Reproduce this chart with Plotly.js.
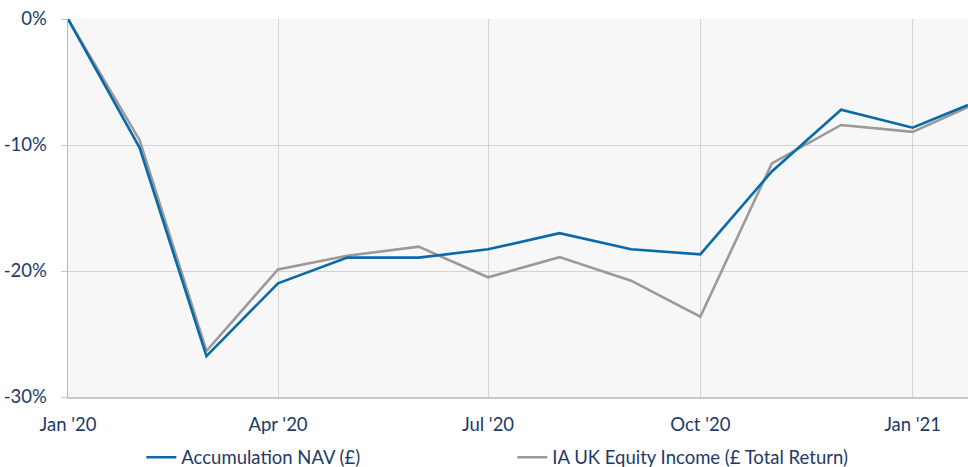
<!DOCTYPE html>
<html>
<head>
<meta charset="utf-8">
<script src="https://cdn.plot.ly/plotly-3.0.1.min.js"></script>
<style>html,body{margin:0;padding:0;background:#fff;}#chart{width:968px;height:467px;}</style>
</head>
<body>
<div id="chart"></div>
<script>
const dates = ['2020-01-01','2020-02-01','2020-03-01','2020-04-01','2020-05-01','2020-06-01','2020-07-01','2020-08-01','2020-09-01','2020-10-01','2020-11-01','2020-12-01','2021-01-01','2021-01-25'];
const accumulationNav = [0, -10.2, -26.75, -20.98, -18.94, -18.94, -18.28, -17.0, -18.28, -18.68, -12.1, -7.2, -8.63, -6.83];
const iaUkEquityIncome = [0, -9.6, -26.35, -19.87, -18.79, -18.07, -20.5, -18.9, -20.77, -23.63, -11.46, -8.41, -8.96, -7.0];
const seriesNames = ['Accumulation NAV (£)', 'IA UK Equity Income (£ Total Return)'];
const xTickVals = ['2020-01-01','2020-04-01','2020-07-01','2020-10-01','2021-01-01'];
const xTickText = ["Jan '20","Apr '20","Jul '20","Oct '20","Jan '21"];
const yTickVals = [0, -10, -20, -30];
const yTickText = ['0%', '-10%', '-20%', '-30%'];

const fontFam = 'Lato, "Open Sans", sans-serif';
const textColor = '#1c3a68';

const traces = [
  {x: dates, y: iaUkEquityIncome, name: seriesNames[1], type: 'scatter', mode: 'lines',
   line: {color: '#9a9a9a', width: 2.6}, legendrank: 2},
  {x: dates, y: accumulationNav, name: seriesNames[0], type: 'scatter', mode: 'lines',
   line: {color: '#0a69a8', width: 2.6}, legendrank: 1}
];

const layout = {
  width: 968, height: 467,
  margin: {l: 68, r: 0, t: 19, b: 70},
  paper_bgcolor: '#ffffff',
  plot_bgcolor: '#f7f7f7',
  font: {family: fontFam, size: 18.5, color: textColor},
  showlegend: true,
  legend: {orientation: 'h', xref: 'container', yref: 'container', x: 0.146, xanchor: 'left', y: 0.02, yanchor: 'middle',
           font: {family: fontFam, size: 18.5, color: textColor}, entrywidth: 326, entrywidthmode: 'pixels',
           traceorder: 'normal', bgcolor: 'rgba(0,0,0,0)'},
  xaxis: {type: 'date', range: ['2020-01-01', '2021-01-25'], tickvals: xTickVals, ticktext: xTickText,
          showgrid: true, gridcolor: '#d4d4d4', gridwidth: 1, zeroline: false,
          showline: true, linecolor: '#c8c8c8', linewidth: 1.5, ticks: '', ticklabelstandoff: 10,
          tickfont: {family: fontFam, size: 18.5, color: textColor}, fixedrange: true},
  yaxis: {range: [-30, 0], tickvals: yTickVals, ticktext: yTickText,
          showgrid: true, gridcolor: '#d4d4d4', gridwidth: 1, zeroline: false,
          showline: true, linecolor: '#b8b8b8', linewidth: 1.5, ticks: 'outside', ticklen: 6, tickcolor: '#c8c8c8',
          ticklabelstandoff: 10,
          tickfont: {family: fontFam, size: 18.5, color: textColor}, fixedrange: true}
};

Plotly.newPlot('chart', traces, layout, {displayModeBar: false, staticPlot: true});
</script>
</body>
</html>
